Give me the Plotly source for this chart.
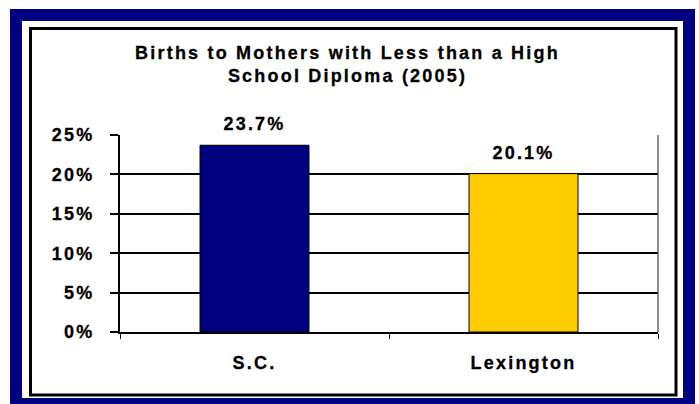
import plotly.graph_objects as go

categories = ["S.C.", "Lexington"]
values = [23.7, 20.1]
bar_colors = ["#000080", "#FFCC00"]
y_tick_vals = [0, 5, 10, 15, 20, 25]
y_tick_text = ["0%", "5%", "10%", "15%", "20%", "25%"]
title_text = "Births to Mothers with Less than a High<br>School Diploma (2005)"

W, H = 699, 404
L, R, T, B = 120, 658, 135, 332  # plot area in pixels
pw, ph = R - L, B - T

def px(x):
    return (x - L) / pw

def py(y):
    return (B - y) / ph

FONT = "Liberation Sans"
FS = 18

fig = go.Figure()
fig.add_trace(go.Bar(
    x=categories, y=values,
    marker=dict(color=bar_colors, line=dict(color="black", width=1)),
    width=0.405,
    hoverinfo="skip",
))

for c, v in zip(categories, values):
    fig.add_annotation(x=c, y=v, xref="x", yref="y", text=f"{v:.1f}%",
                       showarrow=False, yanchor="bottom", yshift=9,
                       font=dict(family=FONT, size=FS, color="black", weight="bold"))

shapes = [
    # navy outer frame
    dict(type="rect", xref="paper", yref="paper",
         x0=px(16), x1=px(689), y0=py(404), y1=py(15),
         line=dict(color="#000080", width=12), fillcolor="rgba(0,0,0,0)", layer="below"),
    # black inner border
    dict(type="rect", xref="paper", yref="paper",
         x0=px(30.5), x1=px(676), y0=py(395), y1=py(28.5),
         line=dict(color="black", width=3), fillcolor="rgba(0,0,0,0)", layer="below"),
    # thin right edge of plot area
    dict(type="line", xref="paper", yref="paper", x0=1, x1=1, y0=0, y1=1,
         line=dict(color="#444444", width=1.2), layer="above"),
]

fig.update_layout(
    width=W, height=H,
    margin=dict(l=L, r=W - R, t=T, b=H - B),
    paper_bgcolor="white", plot_bgcolor="white",
    showlegend=False,
    shapes=shapes,
    title=dict(text=title_text, x=347.5 / W, xanchor="center",
               y=1 - 59 / H, yanchor="middle", yref="container",
               font=dict(family=FONT, size=FS, color="black", weight="bold")),
    bargap=0.595,
)

fig.update_yaxes(
    range=[0, 25], tickvals=y_tick_vals, ticktext=y_tick_text,
    showgrid=True, gridcolor="black", gridwidth=2,
    showline=True, linecolor="black", linewidth=2, mirror=False,
    ticks="outside", ticklen=8, tickwidth=2, tickcolor="black",
    ticklabelstandoff=12,
    tickfont=dict(family=FONT, size=FS, color="black", weight="bold"),
    zeroline=False, fixedrange=True,
)
fig.update_xaxes(
    showline=True, linecolor="black", linewidth=2,
    ticks="outside", tickson="boundaries", ticklen=5, tickwidth=1, tickcolor="black",
    ticklabelstandoff=13,
    tickfont=dict(family=FONT, size=FS, color="black", weight="bold"),
    fixedrange=True,
)

post = """
var s = document.createElement('style');
s.innerHTML = 'html, body { margin: 0; padding: 0; overflow: hidden; } '
  + '.main-svg text { letter-spacing: 2.2px; font-weight: 700; stroke: #000; stroke-width: 0.3px; }';
document.head.appendChild(s);
"""
fig.write_html("out.html", post_script=post, config={"displayModeBar": False})
